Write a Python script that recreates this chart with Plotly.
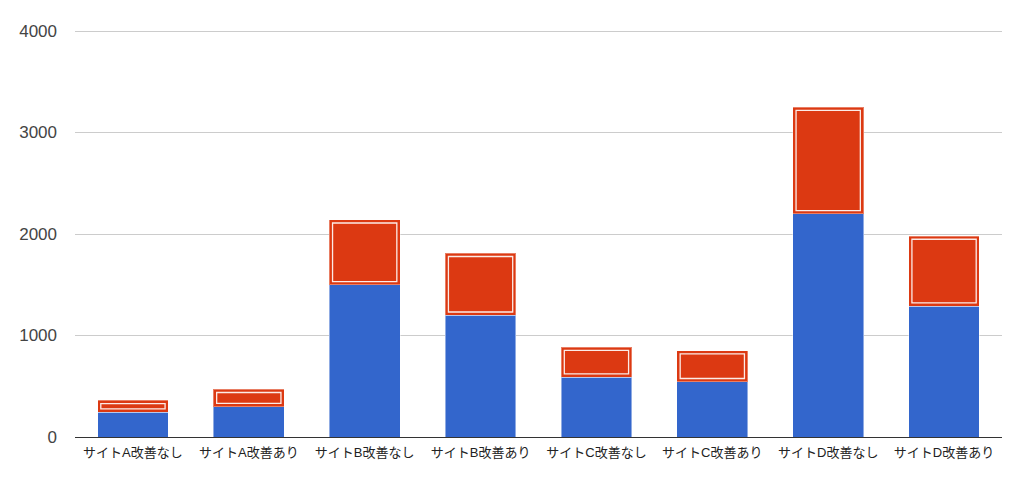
import plotly.graph_objects as go

categories = ["サイトA改善なし", "サイトA改善あり", "サイトB改善なし", "サイトB改善あり",
              "サイトC改善なし", "サイトC改善あり", "サイトD改善なし", "サイトD改善あり"]
blue_values = [245, 300, 1500, 1200, 590, 545, 2200, 1290]
red_values = [115, 170, 640, 610, 295, 305, 1050, 690]
y_ticks = [0, 1000, 2000, 3000, 4000]

W, H = 1024, 481
ML, MR, MT, MB = 75, 22, 27, 44
bar_w = 0.61
y_top = 4040

px_per_cat = (W - ML - MR) / len(categories)
px_per_unit = (H - MT - MB) / y_top
inset_px = 3.2
dx = inset_px / px_per_cat
dy = inset_px / px_per_unit

fig = go.Figure()
fig.add_trace(go.Bar(
    x=categories, y=blue_values, width=bar_w,
    marker=dict(color="#3366CC", line=dict(color="rgba(255,255,255,0.45)", width=1)),
    hoverinfo="y", showlegend=False,
))
fig.add_trace(go.Bar(
    x=categories, y=red_values, width=bar_w,
    marker=dict(color="#DC3912", line=dict(color="rgba(255,255,255,0.35)", width=1)),
    hoverinfo="y", showlegend=False,
))

shapes = []
for i, (b, r) in enumerate(zip(blue_values, red_values)):
    shapes.append(dict(
        type="rect", xref="x", yref="y",
        x0=i - bar_w / 2 + dx, x1=i + bar_w / 2 - dx,
        y0=b + dy, y1=b + r - dy,
        line=dict(color="rgba(255,255,255,0.9)", width=1.3),
        fillcolor="rgba(0,0,0,0)", layer="above",
    ))

fig.update_layout(
    barmode="stack",
    width=W, height=H,
    margin=dict(l=ML, r=MR, t=MT, b=MB),
    paper_bgcolor="white", plot_bgcolor="white",
    font=dict(family="Liberation Sans, Arial, Noto Sans CJK JP, sans-serif", color="#222"),
    shapes=shapes,
    xaxis=dict(
        type="category", range=[-0.5, len(categories) - 0.5],
        tickfont=dict(size=13, color="#222",
                      family="Liberation Sans, Arial, Noto Sans CJK JP, sans-serif"),
        showgrid=False, ticks="", showline=False, zeroline=False,
        ticklabelstandoff=6,
    ),
    yaxis=dict(
        range=[0, y_top], tickvals=y_ticks, ticktext=[str(v) for v in y_ticks],
        tickfont=dict(size=17, color="#444"),
        showgrid=True, gridcolor="#CCCCCC", gridwidth=1,
        zeroline=True, zerolinecolor="#333333", zerolinewidth=1,
        ticks="", ticklabelstandoff=17, showline=False,
    ),
)

fig.write_html("out.html")
